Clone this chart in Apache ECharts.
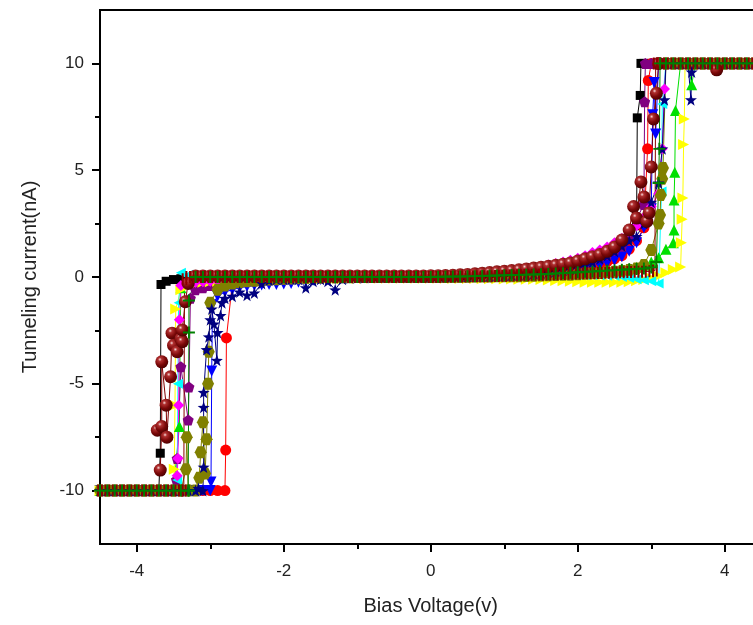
<!DOCTYPE html>
<html>
<head>
<meta charset="utf-8">
<title>Tunneling current vs bias voltage</title>
<script src="https://cdn.jsdelivr.net/npm/echarts@6/dist/echarts.min.js"></script>
<style>
  html, body { margin: 0; padding: 0; background: #ffffff; overflow: hidden; width: 753px; height: 625px; }
  /* the plot runs past the right edge of the page, so the canvas is made wider than the view */
  #chart { width: 800px; height: 625px; }
</style>
</head>
<body>
<div id="chart"></div>
<script>
// Common bias sweep grid (V), -4.5 V to 4.5 V in 0.1 V steps
const biasV = [
  -4.5,-4.4,-4.3,-4.2,-4.1,-4.0,-3.9,-3.8,-3.7,-3.6,
  -3.5,-3.4,-3.3,-3.2,-3.1,-3.0,-2.9,-2.8,-2.7,-2.6,
  -2.5,-2.4,-2.3,-2.2,-2.1,-2.0,-1.9,-1.8,-1.7,-1.6,
  -1.5,-1.4,-1.3,-1.2,-1.1,-1.0,-0.9,-0.8,-0.7,-0.6,
  -0.5,-0.4,-0.3,-0.2,-0.1,0.0,0.1,0.2,0.3,0.4,
  0.5,0.6,0.7,0.8,0.9,1.0,1.1,1.2,1.3,1.4,
  1.5,1.6,1.7,1.8,1.9,2.0,2.1,2.2,2.3,2.4,
  2.5,2.6,2.7,2.8,2.9,3.0,3.1,3.2,3.3,3.4,
  3.5,3.6,3.7,3.8,3.9,4.0,4.1,4.2,4.3,4.4,
  4.5
];

// Current (nA) of each sweep on the common grid (null = no reading)
const sweepBlack = [
  -10,-10,-10,-10,-10,-10,-10,-10,-10,-0.2,
  -0.12,-0.08,-0.05,-0.04,-0.03,-0.03,-0.02,-0.02,-0.02,-0.02,
  -0.01,-0.01,-0.01,-0.01,0,0,0,0,0,0,
  0,0,0,0,0,0,0,0,0,0,
  0,0,0,0,0,0.01,0.01,0.02,0.02,0.03,
  0.03,0.04,0.05,0.05,0.06,0.07,0.09,0.1,0.12,0.15,
  0.18,0.21,0.25,0.3,0.35,0.42,0.5,0.6,0.75,0.9,
  1.1,1.4,1.8,2.4,10,10,10,10,10,10,
  10,10,10,10,10,10,10,10,10,10,
  10
];
const sweepRed = [
  -10,-10,-10,-10,-10,-10,-10,-10,-10,-10,
  -10,-10,-10,-10,-10,-10,-10,-10,-0.3,-0.2,
  -0.15,-0.12,-0.1,-0.08,-0.06,-0.05,-0.04,-0.03,-0.02,-0.02,
  -0.01,-0.01,0,0,0,0,0,0,0,0,
  0,0,0,0,0,0.01,0.01,0.01,0.02,0.02,
  0.03,0.03,0.04,0.05,0.06,0.07,0.08,0.1,0.11,0.13,
  0.15,0.18,0.21,0.25,0.3,0.35,0.42,0.5,0.6,0.72,
  0.85,1.0,1.3,1.7,2.3,10,10,10,10,10,
  10,10,10,10,10,10,10,10,10,10,
  10
];
const sweepBlue = [
  -10,-10,-10,-10,-10,-10,-10,-10,-10,-10,
  -10,-10,-10,-10,-10,-10,-0.9,-0.7,-0.6,-0.5,
  -0.45,-0.4,-0.38,-0.35,-0.35,-0.33,-0.3,-0.25,-0.2,-0.15,
  -0.12,-0.1,-0.08,-0.06,-0.05,-0.04,-0.03,-0.02,-0.01,0,
  0,0,0,0,0,0,0.01,0.01,0.02,0.02,
  0.03,0.03,0.04,0.05,0.06,0.07,0.08,0.09,0.11,0.13,
  0.15,0.18,0.21,0.25,0.29,0.34,0.4,0.47,0.55,0.65,
  0.78,0.95,1.2,1.6,2.3,3.2,10,10,10,10,
  10,10,10,10,10,10,10,10,10,10,
  10
];
const sweepGreen = [
  -10,-10,-10,-10,-10,-10,-10,-10,-10,-10,
  -10,-0.5,-0.3,-0.2,-0.15,-0.12,-0.1,-0.08,-0.07,-0.06,
  -0.05,-0.04,-0.03,-0.03,-0.02,-0.02,-0.01,-0.01,0,0,
  0,0,0,0,0,0,0,0,0,0,
  0,0,0,0,0,0,0,0.01,0.01,0.01,
  0.02,0.02,0.03,0.03,0.04,0.05,0.05,0.06,0.07,0.08,
  0.09,0.1,0.12,0.14,0.16,0.18,0.2,0.22,0.25,0.28,
  0.32,0.36,0.4,0.46,0.55,0.7,0.9,1.3,1.6,10,
  10,10,10,10,10,10,10,10,10,10,
  10
];
const sweepPurple = [
  -10,-10,-10,-10,-10,-10,-10,-10,-10,-10,
  -10,-4.2,-6.7,-0.6,-0.5,-0.4,-0.4,-0.3,-0.3,-0.25,
  -0.2,-0.18,-0.15,-0.12,-0.1,-0.08,-0.06,-0.05,-0.04,-0.03,
  -0.02,-0.02,-0.01,-0.01,0,0,0,0,0,0,
  0,0,0,0.01,0.01,0.02,0.02,0.03,0.04,0.05,
  0.06,0.07,0.08,0.1,0.12,0.14,0.16,0.19,0.22,0.26,
  0.3,0.34,0.39,0.45,0.52,0.6,0.7,0.8,0.92,1.05,
  1.25,1.45,2.0,2.7,3.4,10,10,10,10,10,
  10,10,10,10,10,10,10,10,10,10,
  10
];
const sweepYellow = [
  -10,-10,-10,-10,-10,-10,-10,-10,-10,-10,
  -10,-0.6,-0.4,-0.3,-0.25,-0.22,-0.2,-0.18,-0.16,-0.15,
  -0.14,-0.13,-0.12,-0.11,-0.1,-0.1,-0.09,-0.09,-0.08,-0.08,
  -0.08,-0.08,-0.07,-0.07,-0.07,-0.07,-0.07,-0.06,-0.06,-0.06,
  -0.06,-0.06,-0.06,-0.06,-0.06,-0.06,-0.06,-0.06,-0.07,-0.07,
  -0.07,-0.07,-0.08,-0.08,-0.08,-0.09,-0.09,-0.1,-0.1,-0.1,
  -0.12,-0.14,-0.16,-0.18,-0.2,-0.22,-0.24,-0.25,-0.25,-0.25,
  -0.25,-0.25,-0.22,-0.18,-0.12,-0.05,0.05,0.2,0.35,0.47,
  10,10,10,10,10,10,10,10,10,10,
  10
];
const sweepCyan = [
  -10,-10,-10,-10,-10,-10,-10,-10,-10,-10,
  -10,0.2,0.1,0.05,0.03,0.02,0.02,0.01,0.01,0.01,
  0.01,0.01,0,0,0,0,0,0,0,0,
  0,0,0,0,0,0,0,0,0,0,
  0,0,0,0,0,0,0.01,0.01,0.01,0.01,
  0.02,0.02,0.02,0.03,0.03,0.04,0.04,0.05,0.05,0.05,
  0.06,0.06,0.07,0.07,0.08,0.08,0.08,0.08,0.07,0.06,
  0.05,0,-0.05,-0.1,-0.15,-0.2,-0.3,10,10,10,
  10,10,10,10,10,10,10,10,10,10,
  10
];
const sweepMagenta = [
  -10,-10,-10,-10,-10,-10,-10,-10,-10,-10,
  -10,-0.4,-0.3,-0.25,-0.22,-0.2,-0.18,-0.16,-0.15,-0.14,
  -0.13,-0.12,-0.11,-0.1,-0.09,-0.08,-0.07,-0.06,-0.05,-0.04,
  -0.03,-0.02,-0.02,-0.01,-0.01,0,0,0,0,0,
  0,0.01,0.01,0.02,0.03,0.04,0.05,0.06,0.07,0.08,
  0.1,0.12,0.14,0.17,0.2,0.24,0.28,0.33,0.38,0.44,
  0.5,0.56,0.63,0.7,0.78,0.88,1.0,1.15,1.26,1.4,
  1.6,1.8,2.1,2.4,2.8,3.3,3.9,10,10,10,
  10,10,10,10,10,10,10,10,10,10,
  10
];
const sweepOlive = [
  -10,-10,-10,-10,-10,-10,-10,-10,-10,-10,
  -10,-10,-10,-10,-6.8,-1.2,-0.6,-0.4,-0.3,-0.25,
  -0.2,-0.18,-0.15,-0.12,-0.1,-0.08,-0.07,-0.06,-0.05,-0.04,
  -0.03,-0.02,-0.02,-0.01,-0.01,0,0,0,0,0,
  0,0,0,0,0,0,0,0,0.01,0.01,
  0.01,0.02,0.02,0.02,0.03,0.03,0.04,0.04,0.05,0.06,
  0.07,0.08,0.09,0.1,0.11,0.13,0.15,0.17,0.19,0.22,
  0.25,0.28,0.33,0.4,0.56,1.26,2.5,10,10,10,
  10,10,10,10,10,10,10,10,10,10,
  10
];
const sweepNavy = [
  -10,-10,-10,-10,-10,-10,-10,-10,-10,-10,
  -10,-10,-10,-10,-10,-2.0,-2.6,-1.0,-0.9,-0.7,
  -0.85,-0.75,-0.3,-0.15,-0.1,-0.1,-0.1,-0.1,-0.5,-0.2,
  -0.1,-0.2,-0.6,-0.1,-0.05,-0.03,-0.02,-0.01,0,0,
  0,0,0,0,0,0,0,0.01,0.01,0.02,
  0.02,0.03,0.04,0.05,0.06,0.07,0.09,0.11,0.13,0.16,
  0.19,0.23,0.27,0.32,0.38,0.45,0.55,0.7,0.85,1.0,
  1.2,1.45,1.7,1.9,2.5,3.5,4.4,10,10,10,
  10,10,10,10,10,10,10,10,10,10,
  10
];
const sweepWine = [
  null,null,null,null,null,null,null,null,null,-6.0,
  -3.2,-2.9,-0.3,0.05,0.05,0.05,0.05,0.05,0.05,0.05,
  0.05,0.05,0.05,0.05,0.05,0.05,0.05,0.05,0.05,0.05,
  0.05,0.05,0.05,0.05,0.05,0.05,0.05,0.05,0.05,0.05,
  0.05,0.05,0.05,0.05,0.05,0.06,0.06,0.07,0.08,0.1,
  0.12,0.15,0.18,0.21,0.24,0.27,0.3,0.34,0.38,0.42,
  0.46,0.5,0.55,0.6,0.66,0.75,0.85,0.95,1.05,1.2,
  1.4,1.73,2.2,2.76,3.75,5.15,10,null,null,null,
  null,null,null,null,null,null,null,null,null,null,
  null
];
const sweepBars = [
  -10,-10,-10,-10,-10,-10,-10,-10,-10,-10,
  -10,-10,0,0,0,0,0,0,0,0,
  0,0,0,0,0,0,0,0,0,0,
  0,0,0,0,0,0,0,0,0,0,
  0,0,0,0,0,0,0,0.01,0.01,0.02,
  0.02,0.03,0.03,0.04,0.05,0.06,0.07,0.08,0.09,0.1,
  0.11,0.12,0.13,0.14,0.15,0.16,0.17,0.18,0.19,0.2,
  0.21,0.22,0.23,0.24,0.25,0.27,10,10,10,10,
  10,10,10,10,10,10,10,10,10,10,
  10
];
const sweepCross = [
  -10,-10,-10,-10,-10,-10,-10,-10,-10,-10,
  -10,-10,-10,0,0,0,0,0,0,0,
  0,0,0,0,0,0,0,0,0,0,
  0,0,0,0,0,0,0,0,0,0,
  0,0,0,0,0,0,0.01,0.01,0.02,0.02,
  0.03,0.04,0.05,0.06,0.07,0.08,0.09,0.1,0.11,0.12,
  0.13,0.14,0.16,0.18,0.2,0.22,0.24,0.26,0.28,0.3,
  0.32,0.34,0.36,0.38,0.4,0.45,4.4,10,10,10,
  10,10,10,10,10,10,10,10,10,10,
  10
];

// Extra readings recorded while the tip switches (V, nA)
const switchBlack = [[-3.68,-8.25],[-3.67,-0.35],[2.81,7.45],[2.85,8.5],[2.86,10]];
const switchRed = [[-2.79,-8.1],[-2.78,-2.85],[2.95,6.0],[2.96,9.2]];
const switchBlue = [[-2.99,-9.6],[-2.98,-4.4],[-2.97,-1.3],[3.02,7.6],[3.04,9.1],[3.06,6.7]];
const switchGreen = [[-3.42,-7.0],[-3.41,-3.0],[3.31,2.2],[3.31,3.6],[3.32,4.9],[3.33,7.8],[3.55,9.0]];
const switchPurple = [[-3.46,-9.5],[-3.45,-8.5],[-3.29,-5.15],[-3.27,-1.0],[2.91,8.2],[2.92,10]];
const switchYellow = [[-3.49,-9.0],[-3.48,-6.0],[-3.47,-1.5],[3.41,1.6],[3.42,2.7],[3.43,3.7],[3.44,6.2],[3.45,7.4],[3.46,10]];
const switchCyan = [[-3.45,-9.5],[-3.44,-5.0],[-3.43,-1.2],[3.14,4.0],[3.15,8.1]];
const switchMagenta = [[-3.45,-9.3],[-3.44,-8.5],[-3.43,-6.0],[-3.42,-2.0],[3.15,6.0],[3.18,8.8]];
const switchOlive = [[-3.33,-9.0],[-3.32,-7.5],[-3.15,-9.4],[-3.13,-8.2],[-3.07,-9.2],[-3.05,-7.6],[-3.03,-5.0],[-3.02,-3.5],[3.12,2.9],[3.13,3.84],[3.15,4.6],[3.16,5.1]];
const switchNavy = [[-3.16,-9.9],[-3.09,-8.9],[-3.09,-6.1],[-3.09,-5.4],[-3.05,-3.4],[-3.02,-2.8],[-2.98,-1.5],[-2.95,-2.2],[-2.91,-3.9],[-2.86,-1.8],[-2.84,-1.2],[3.15,6.0],[3.18,8.3],[3.54,8.3],[3.55,9.6]];
const switchWine = [[-3.72,-7.17],[-3.68,-9.04],[-3.66,-7.0],[-3.66,-3.97],[-3.59,-7.5],[-3.54,-4.67],[-3.52,-2.63],[-3.45,-3.5],[-3.38,-3.03],[-3.38,-2.48],[-3.34,-1.16],[2.76,3.3],[2.86,4.45],[2.94,2.6],[2.97,3.0],[3.03,7.4],[3.07,8.6],[3.89,9.7]];
const switchBars = [[-3.36,-10],[-3.35,-0.1],[3.05,0.3],[3.06,10]];
const switchCross = [[-3.29,-10],[-3.29,-2.6],[-3.29,-1.1],[3.07,0.7],[3.11,6.0],[3.12,10]];

// Axis ticks
const xMajorTicks = [-4, -2, 0, 2, 4];
const xMinorTicks = [-3, -1, 1, 3];
const yMajorTicks = [-10, -5, 0, 5, 10];
const yMinorTicks = [-7.5, -2.5, 2.5, 7.5];

// Merge grid readings with switching readings, ordered by voltage
function sweepPoints(current, extra) {
  const pts = biasV.map((v, i) => [v, current[i]]).concat(extra.map(p => [p[0], p[1]]));
  pts.sort((a, b) => (a[0] - b[0]) || ((a[1] || 0) - (b[1] || 0)));
  return pts;
}

const shapes = {
  triDown: 'path://M0,0 L10,0 L5,9 Z',
  triUp: 'path://M5,0 L10,9 L0,9 Z',
  triRight: 'path://M0,0 L9,5 L0,10 Z',
  triLeft: 'path://M9,0 L0,5 L9,10 Z',
  pentagon: 'path://M0,-10 L9.51,-3.09 L5.88,8.09 L-5.88,8.09 L-9.51,-3.09 Z',
  hexagon: 'path://M-10,0 L-5,-8.66 L5,-8.66 L10,0 L5,8.66 L-5,8.66 Z',
  star: 'path://M0,-10 L2.35,-3.24 L9.51,-3.09 L3.8,1.24 L5.88,8.09 L0,4 L-5.88,8.09 L-3.8,1.24 L-9.51,-3.09 L-2.35,-3.24 Z',
  plus: 'path://M-1.6,-10 L1.6,-10 L1.6,-1.6 L10,-1.6 L10,1.6 L1.6,1.6 L1.6,10 L-1.6,10 L-1.6,1.6 L-10,1.6 L-10,-1.6 L-1.6,-1.6 Z',
  bars: 'path://M0,0 L2,0 L2,10 L0,10 Z M3.7,0 L5.7,0 L5.7,10 L3.7,10 Z'
};

const sphereFill = {
  type: 'radial', x: 0.36, y: 0.32, r: 0.72,
  colorStops: [
    { offset: 0, color: '#f6dada' },
    { offset: 0.2, color: '#b03030' },
    { offset: 0.6, color: '#7a0808' },
    { offset: 1, color: '#4a0000' }
  ]
};

function sweepSeries(name, current, extra, symbol, size, color, fill) {
  return {
    name: name,
    type: 'line',
    xAxisIndex: 0,
    yAxisIndex: 0,
    data: sweepPoints(current, extra),
    symbol: symbol,
    symbolSize: size,
    showSymbol: true,
    showAllSymbol: true,
    connectNulls: false,
    clip: false,
    itemStyle: { color: fill || color },
    lineStyle: { color: color, width: 1 },
    emphasis: { disabled: true },
    animation: false
  };
}

const series = [
  sweepSeries('s1', sweepBlack, switchBlack, 'rect', 9, '#000000'),
  sweepSeries('s2', sweepRed, switchRed, 'circle', 11, '#ff0000'),
  sweepSeries('s3', sweepBlue, switchBlue, shapes.triDown, 11, '#0000ff'),
  sweepSeries('s4', sweepGreen, switchGreen, shapes.triUp, 11, '#00e000'),
  sweepSeries('s5', sweepPurple, switchPurple, shapes.pentagon, 11, '#800080'),
  sweepSeries('s6', sweepYellow, switchYellow, shapes.triRight, 11, '#ffff00'),
  sweepSeries('s7', sweepCyan, switchCyan, shapes.triLeft, 10, '#00ffff'),
  sweepSeries('s8', sweepMagenta, switchMagenta, 'diamond', 11, '#ff00ff'),
  sweepSeries('s9', sweepOlive, switchOlive, shapes.hexagon, 12, '#808000'),
  sweepSeries('s10', sweepNavy, switchNavy, shapes.star, 12, '#000080'),
  sweepSeries('s11', sweepWine, switchWine, 'circle', 13, '#800000', sphereFill),
  sweepSeries('s12', sweepBars, switchBars, shapes.bars, [5.7, 12], '#8b0000'),
  sweepSeries('s13', sweepCross, switchCross, shapes.plus, 12, '#008000')
];

const font = 'Liberation Sans, Arial, sans-serif';
const ink = '#000000';
const plotLeft = 100, plotTop = 10, plotWidth = 661.5, plotHeight = 534;

const chart = echarts.init(document.getElementById('chart'), null, { renderer: 'canvas' });
chart.setOption({
  backgroundColor: '#ffffff',
  animation: false,
  grid: {
    left: plotLeft, top: plotTop, width: plotWidth, height: plotHeight,
    outerBoundsMode: 'none', containLabel: false,
    show: true, borderColor: ink, borderWidth: 2, backgroundColor: 'transparent'
  },
  xAxis: [
    {
      type: 'value', position: 'bottom', min: -4.5, max: 4.5,
      axisLine: { show: false, onZero: false },
      axisTick: { show: true, customValues: xMajorTicks, length: 8, lineStyle: { color: ink, width: 2 } },
      axisLabel: { customValues: xMajorTicks, fontSize: 17, margin: 19, color: '#222', fontFamily: font },
      splitLine: { show: false },
      name: 'Bias Voltage(v)', nameLocation: 'middle', nameGap: 52,
      nameTextStyle: { fontSize: 20, color: '#222', fontFamily: font }
    },
    {
      // minor ticks, moved down onto the bottom edge
      type: 'value', position: 'top', offset: -plotHeight, min: -4.5, max: 4.5,
      axisLine: { show: false, onZero: false },
      axisTick: { show: true, inside: true, customValues: xMinorTicks, length: 5, lineStyle: { color: ink, width: 2 } },
      axisLabel: { show: false }, splitLine: { show: false }
    }
  ],
  yAxis: [
    {
      type: 'value', position: 'left', min: -12.5, max: 12.5,
      axisLine: { show: false, onZero: false },
      axisTick: { show: true, customValues: yMajorTicks, length: 8, lineStyle: { color: ink, width: 2 } },
      axisLabel: { customValues: yMajorTicks, fontSize: 17, margin: 16, color: '#222', fontFamily: font },
      splitLine: { show: false },
      name: 'Tunneling current(nA)', nameLocation: 'middle', nameGap: 60,
      nameTextStyle: { fontSize: 20, color: '#222', fontFamily: font }
    },
    {
      // minor ticks, moved across onto the left edge
      type: 'value', position: 'right', offset: -plotWidth, min: -12.5, max: 12.5,
      axisLine: { show: false, onZero: false },
      axisTick: { show: true, inside: true, customValues: yMinorTicks, length: 5, lineStyle: { color: ink, width: 2 } },
      axisLabel: { show: false }, splitLine: { show: false }
    }
  ],
  series: series
});
</script>
</body>
</html>
